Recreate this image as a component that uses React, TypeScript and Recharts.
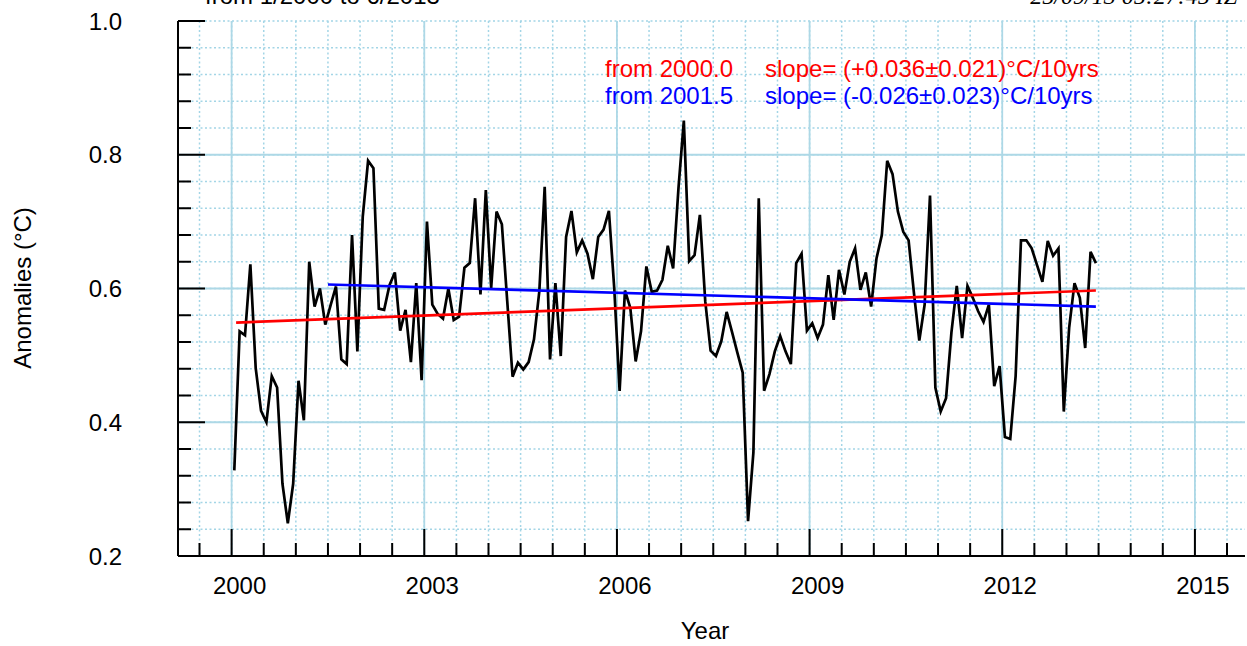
import React from 'react';
import { LineChart, Line, XAxis, YAxis, CartesianGrid } from 'recharts';

// Monthly anomalies (°C), Jan..Dec
const anom2000 = [0.328, 0.536, 0.530, 0.636, 0.481, 0.417, 0.400, 0.469, 0.452, 0.308, 0.249, 0.308];
const anom2001 = [0.462, 0.403, 0.640, 0.573, 0.600, 0.546, 0.575, 0.603, 0.494, 0.487, 0.680, 0.506];
const anom2002 = [0.707, 0.791, 0.780, 0.570, 0.568, 0.605, 0.624, 0.537, 0.568, 0.490, 0.608, 0.463];
const anom2003 = [0.700, 0.576, 0.562, 0.555, 0.600, 0.553, 0.558, 0.631, 0.638, 0.735, 0.591, 0.747];
const anom2004 = [0.601, 0.715, 0.696, 0.581, 0.468, 0.489, 0.479, 0.490, 0.524, 0.596, 0.752, 0.494];
const anom2005 = [0.608, 0.499, 0.677, 0.716, 0.654, 0.672, 0.652, 0.614, 0.677, 0.688, 0.716, 0.600];
const anom2006 = [0.447, 0.597, 0.571, 0.491, 0.536, 0.633, 0.595, 0.597, 0.613, 0.664, 0.630, 0.750];
const anom2007 = [0.851, 0.641, 0.650, 0.710, 0.581, 0.507, 0.499, 0.521, 0.565, 0.535, 0.504, 0.474];
const anom2008 = [0.252, 0.355, 0.735, 0.447, 0.472, 0.506, 0.529, 0.506, 0.487, 0.638, 0.652, 0.537];
const anom2009 = [0.548, 0.526, 0.546, 0.620, 0.553, 0.628, 0.591, 0.640, 0.660, 0.598, 0.624, 0.573];
const anom2010 = [0.645, 0.680, 0.791, 0.771, 0.715, 0.685, 0.672, 0.593, 0.522, 0.576, 0.739, 0.452];
const anom2011 = [0.416, 0.436, 0.534, 0.604, 0.526, 0.604, 0.586, 0.566, 0.550, 0.576, 0.454, 0.484];
const anom2012 = [0.378, 0.375, 0.469, 0.672, 0.672, 0.660, 0.635, 0.610, 0.671, 0.649, 0.660, 0.416];
const anom2013 = [0.541, 0.608, 0.586, 0.511, 0.655, 0.638];

const years = [2000, 2001, 2002, 2003, 2004, 2005, 2006, 2007, 2008, 2009, 2010, 2011, 2012, 2013];
const yearly = [anom2000, anom2001, anom2002, anom2003, anom2004, anom2005, anom2006, anom2007, anom2008, anom2009, anom2010, anom2011, anom2012, anom2013];

// Linear trends (end points)
const trendFrom2000 = [
  { t: 2000.07, v: 0.549 },
  { t: 2013.458, v: 0.597 },
];
const trendFrom2001 = [
  { t: 2001.5, v: 0.606 },
  { t: 2013.458, v: 0.573 },
];

const xTicksAll = [1999.5, 2000, 2000.5, 2001, 2001.5, 2002, 2002.5, 2003, 2003.5, 2004, 2004.5, 2005, 2005.5, 2006, 2006.5, 2007, 2007.5, 2008, 2008.5, 2009, 2009.5, 2010, 2010.5, 2011, 2011.5, 2012, 2012.5, 2013, 2013.5, 2014, 2014.5, 2015, 2015.5];
const xTicksMajor = [2000, 2003, 2006, 2009, 2012, 2015];
const yTicksAll = [0.2, 0.24, 0.28, 0.32, 0.36, 0.4, 0.44, 0.48, 0.52, 0.56, 0.6, 0.64, 0.68, 0.72, 0.76, 0.8, 0.84, 0.88, 0.92, 0.96, 1.0];
const yTicksMajor = [0.2, 0.4, 0.6, 0.8, 1.0];
const yGridSolid = [0.4, 0.6, 0.8];

const series = years.flatMap((yr, k) =>
  yearly[k].map((v, m) => ({ t: yr + (m + 0.5) / 12, v }))
);

const FONT = '"Liberation Sans", Arial, Helvetica, sans-serif';
const FS = 24;

const isIn = (arr: number[], v: number) => arr.some((a) => Math.abs(a - v) < 1e-6);

const BottomTick = (props: any) => {
  const { x, y, payload } = props;
  const major = isIn(xTicksMajor, payload.value);
  return (
    <g>
      <line x1={x} y1={y} x2={x} y2={y - (major ? 27 : 13)} stroke="#000" strokeWidth={2} />
      {major && (
        <text x={x + 8} y={y + 38} textAnchor="middle" fontSize={FS} fontFamily={FONT} fill="#000">
          {payload.value}
        </text>
      )}
    </g>
  );
};

const TopTick = (props: any) => {
  const { x, y, payload } = props;
  const major = isIn(xTicksMajor, payload.value);
  return <line x1={x} y1={y} x2={x} y2={y + (major ? 27 : 13)} stroke="#000" strokeWidth={2} />;
};

const LeftTick = (props: any) => {
  const { x, y, payload } = props;
  const major = isIn(yTicksMajor, payload.value);
  return (
    <g>
      <line x1={x} y1={y} x2={x + (major ? 27 : 13)} y2={y} stroke="#000" strokeWidth={2} />
      {major && (
        <text x={x - 56} y={y + 8.5} textAnchor="end" fontSize={FS} fontFamily={FONT} fill="#000">
          {Number(payload.value).toFixed(1)}
        </text>
      )}
    </g>
  );
};

const RightTick = (props: any) => {
  const { x, y, payload } = props;
  const major = isIn(yTicksMajor, payload.value);
  return <line x1={x} y1={y} x2={x - (major ? 27 : 13)} y2={y} stroke="#000" strokeWidth={2} />;
};

const X_DOMAIN: [number, number] = [1999.165, 2015.78];
const Y_DOMAIN: [number, number] = [0.2, 1.0];
const axisLine = { stroke: '#000', strokeWidth: 2 };

export default function App() {
  return (
    <div style={{ position: 'absolute', left: 0, top: 0, width: 1247, height: 646, background: '#fff' }}>
      <LineChart width={1247} height={646} margin={{ top: 21, right: 2, bottom: 0, left: 0 }}>
        <CartesianGrid
          horizontalValues={yTicksAll}
          verticalValues={xTicksAll}
          stroke="#a3d5e6"
          strokeWidth={1.5}
          strokeDasharray="2 2.5"
        />
        <CartesianGrid
          horizontalValues={yGridSolid}
          verticalValues={xTicksMajor}
          stroke="#add8e6"
          strokeWidth={1.8}
        />
        <XAxis
          dataKey="t"
          type="number"
          domain={X_DOMAIN}
          ticks={xTicksAll}
          interval={0}
          allowDataOverflow
          height={90}
          tickSize={0}
          tickMargin={0}
          tickLine={false}
          axisLine={axisLine}
          tick={<BottomTick />}
        />
        <XAxis
          xAxisId="top"
          orientation="top"
          dataKey="t"
          type="number"
          domain={X_DOMAIN}
          ticks={xTicksAll}
          interval={0}
          allowDataOverflow
          height={0}
          tickSize={0}
          tickMargin={0}
          tickLine={false}
          axisLine={axisLine}
          tick={<TopTick />}
        />
        <YAxis
          type="number"
          domain={Y_DOMAIN}
          ticks={yTicksAll}
          interval={0}
          allowDataOverflow
          width={178}
          tickSize={0}
          tickMargin={0}
          tickLine={false}
          axisLine={axisLine}
          tick={<LeftTick />}
        />
        <YAxis
          yAxisId="right"
          orientation="right"
          type="number"
          domain={Y_DOMAIN}
          ticks={yTicksAll}
          interval={0}
          allowDataOverflow
          width={0}
          tickSize={0}
          tickMargin={0}
          tickLine={false}
          axisLine={axisLine}
          tick={<RightTick />}
        />
        <Line data={series} dataKey="v" stroke="#000" strokeWidth={2.7} strokeLinejoin="miter" dot={false} isAnimationActive={false} />
        <Line data={trendFrom2000} dataKey="v" stroke="#ff0000" strokeWidth={2.7} dot={false} isAnimationActive={false} />
        <Line data={trendFrom2001} dataKey="v" stroke="#0000ff" strokeWidth={2.7} dot={false} isAnimationActive={false} />
      </LineChart>
      <svg width={1247} height={646} style={{ position: 'absolute', left: 0, top: 0, pointerEvents: 'none' }}>
        <text x={205} y={4} fontSize={FS} fontFamily={FONT} fill="#000">from 1/2000 to 6/2013</text>
        <text x={1237} y={4} textAnchor="end" fontSize={FS} fontStyle="italic" fontFamily='"Liberation Serif", "Times New Roman", serif' fill="#000">25/09/13 05:27:45 IZ</text>
        <text x={605} y={77} fontSize={FS} fontFamily={FONT} fill="#ff0000">from 2000.0</text>
        <text x={765} y={77} fontSize={FS} fontFamily={FONT} fill="#ff0000">slope= (+0.036±0.021)°C/10yrs</text>
        <text x={605} y={104} fontSize={FS} fontFamily={FONT} fill="#0000ff">from 2001.5</text>
        <text x={765} y={104} fontSize={FS} fontFamily={FONT} fill="#0000ff">slope= (-0.026±0.023)°C/10yrs</text>
        <text x={705} y={639} textAnchor="middle" fontSize={FS} fontFamily={FONT} fill="#000">Year</text>
        <text x={22} y={288} textAnchor="middle" dominantBaseline="central" transform="rotate(-90 22 288)" fontSize={FS} fontFamily={FONT} fill="#000">Anomalies (°C)</text>
      </svg>
    </div>
  );
}
